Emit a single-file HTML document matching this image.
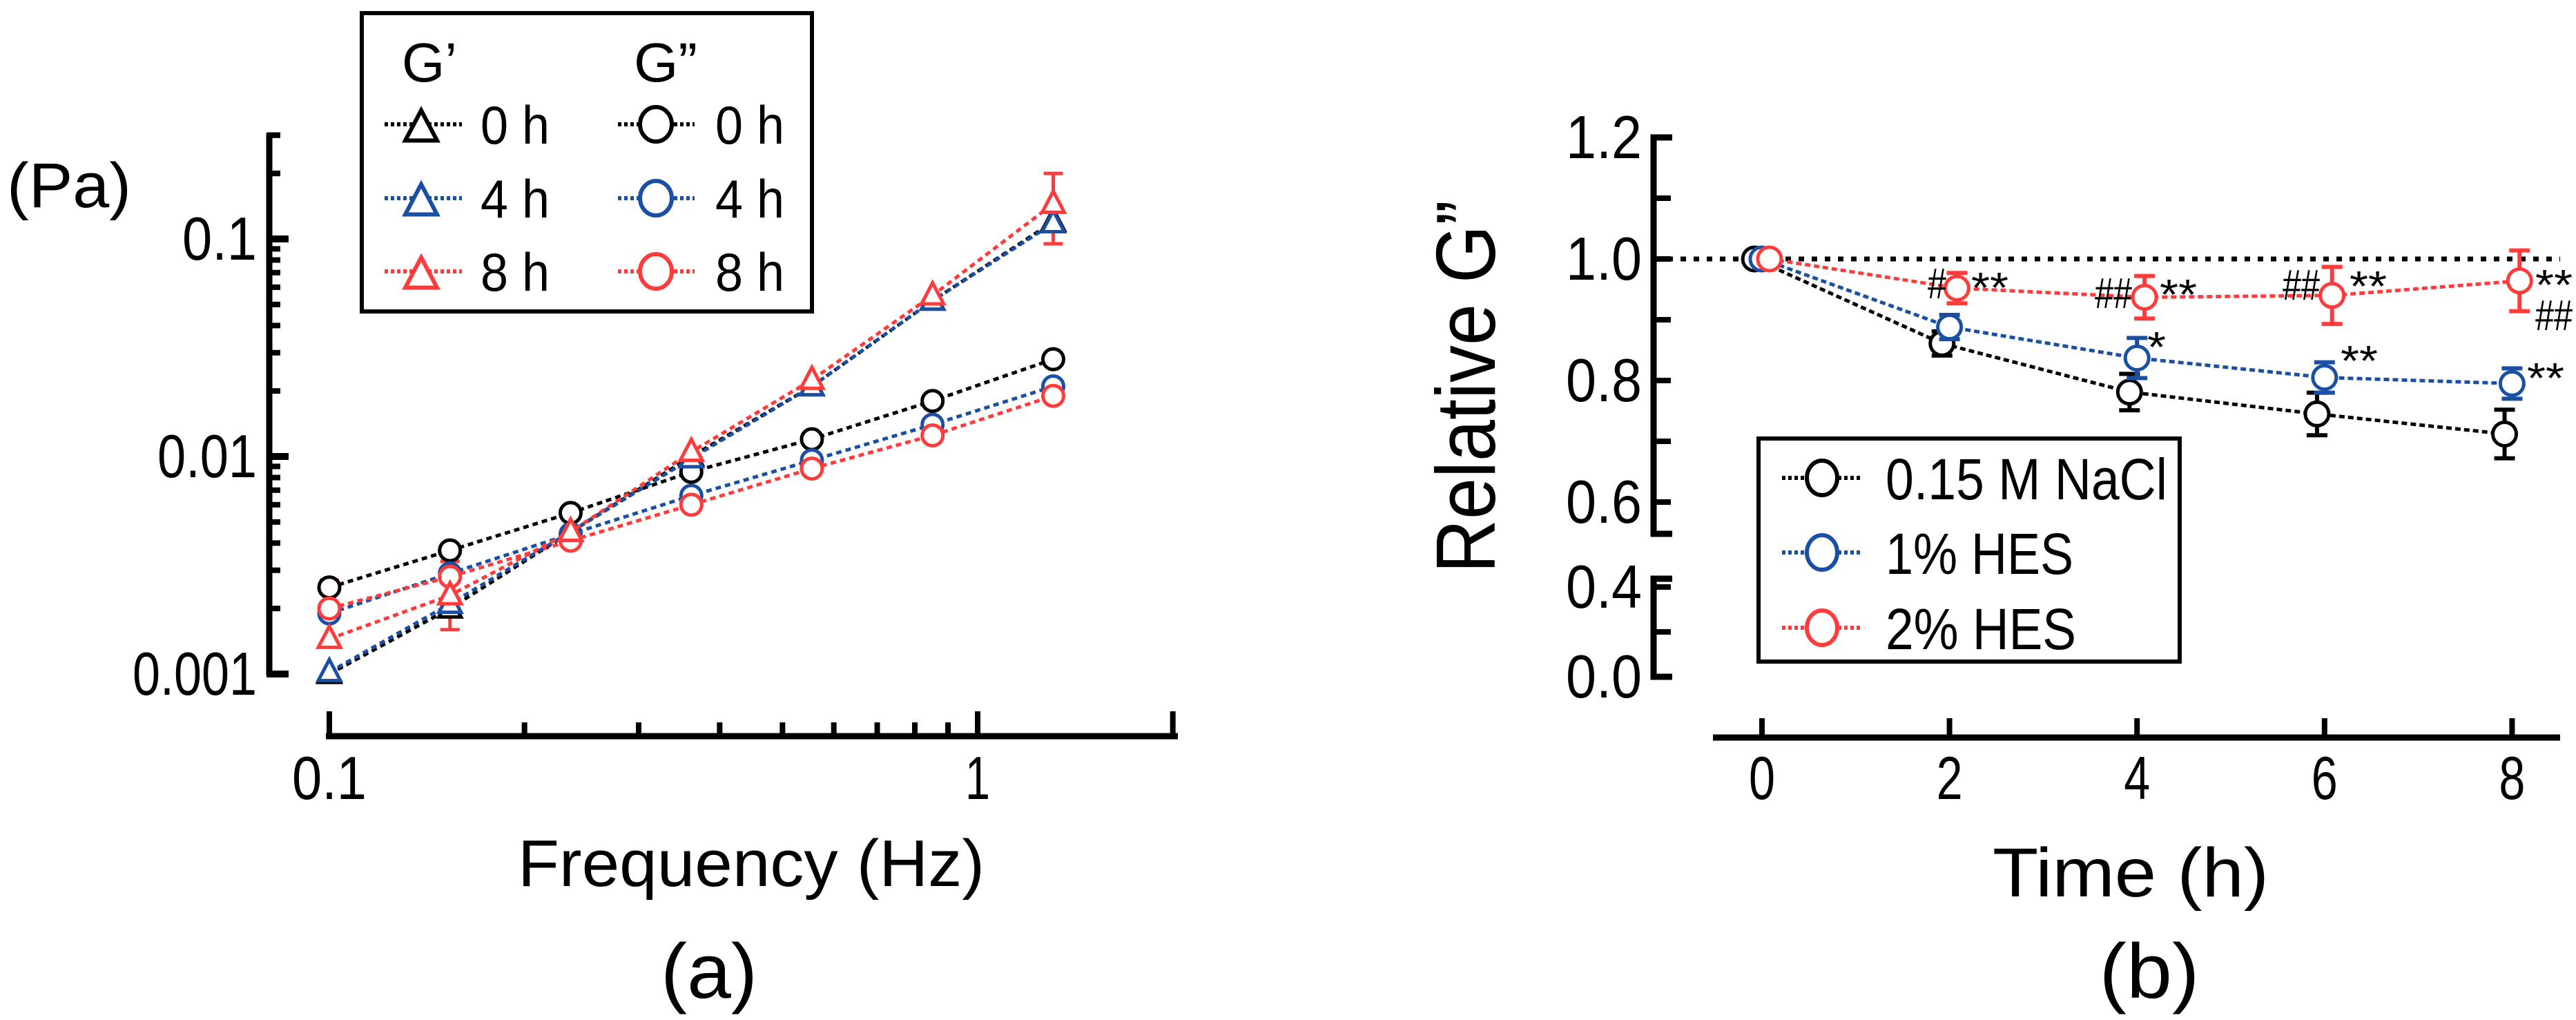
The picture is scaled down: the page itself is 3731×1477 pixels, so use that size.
<!DOCTYPE html>
<html><head><meta charset="utf-8">
<style>
html,body{margin:0;padding:0;background:#fff;}
svg{display:block;}
text{font-family:"Liberation Sans",sans-serif;fill:#000;}
</style></head>
<body>
<svg id="fig" width="3731" height="1477" viewBox="0 0 3731 1477" xmlns="http://www.w3.org/2000/svg">
<g id="pa"></g>
<g id="pb"></g>
</svg>
<script>
// ---------- Panel (a) data ----------
const freqs = [0.1, 0.1535, 0.2356, 0.3617, 0.555, 0.852, 1.308];
const gp0 = [0.00100, 0.0020, 0.0045, 0.0100, 0.021, 0.052, 0.120];
const gp4 = [0.00102, 0.0021, 0.0045, 0.0098, 0.021, 0.052, 0.118];
const gp8 = [0.00145, 0.0023, 0.0045, 0.0105, 0.0225, 0.055, 0.145];
const gpp0 = [0.0025, 0.0037, 0.0055, 0.0085, 0.012, 0.018, 0.028];
const gpp4 = [0.0019, 0.0029, 0.0044, 0.0066, 0.0096, 0.014, 0.021];
const gpp8 = [0.0020, 0.0028, 0.0041, 0.0060, 0.0088, 0.0125, 0.019];
const gp8ErrLo = [0.00145, 0.0016, 0.0045, 0.0105, 0.0225, 0.055, 0.095];
const gp8ErrHi = [0.00145, 0.0033, 0.0045, 0.0105, 0.0225, 0.055, 0.200];
const gpp8ErrLo = [0.0014, 0.0028, 0.0041, 0.0060, 0.0088, 0.0125, 0.019];
const gpp8ErrHi = [0.0027, 0.0028, 0.0041, 0.0060, 0.0088, 0.0125, 0.019];
const aYTicks = [0.001, 0.01, 0.1];
const aYTickLabels = ["0.001", "0.01", "0.1"];
const aXTicks = [0.1, 1];
const aXTickLabels = ["0.1", "1"];
// ---------- Panel (b) data ----------
const times = [0, 2, 4, 6, 8];
const naclVals = [1.0, 0.861, 0.781, 0.745, 0.712];
const naclErr = [0, 0.02, 0.03, 0.035, 0.04];
const hes1Vals = [1.0, 0.888, 0.837, 0.805, 0.795];
const hes1Err = [0, 0.02, 0.033, 0.025, 0.025];
const hes2Vals = [1.0, 0.952, 0.937, 0.940, 0.964];
const hes2Err = [0, 0.025, 0.035, 0.047, 0.05];
const bYTicksUpper = [0.6, 0.8, 1.0, 1.2];
const bYTickLabelsUpper = ["0.6", "0.8", "1.0", "1.2"];
const bYTicksLower = [0.0, 0.4];
const bYTickLabelsLower = ["0.0", "0.4"];
const bXTicks = [0, 2, 4, 6, 8];
const bXTickLabels = ["0", "2", "4", "6", "8"];

const NS = "http://www.w3.org/2000/svg";
function mk(parent, tag, attrs) {
  const e = document.createElementNS(NS, tag);
  for (const k in attrs) e.setAttribute(k, attrs[k]);
  parent.appendChild(e);
  return e;
}
const BLACK = "#000", BLUE = "#1a4fa3", RED = "#ff3b3b";

// ===== Panel A =====
const pa = document.getElementById("pa");
const ax = f => 477 + (Math.log10(f) + 1) * 939;
const ay = v => 346 - (Math.log10(v) + 1) * 315;

let e = mk(pa, "line", {x1: 390, y1: 194, x2: 390, y2: 978, stroke: BLACK, "stroke-width": 9});


for (let d = -3; d <= -1; d++) {
  for (let m = 1; m <= 9; m++) {
    const v = m * Math.pow(10, d);
    const y = ay(v);
    if (y < 190) continue;
    const t = mk(pa, "line", {x1: 386, y1: y, x2: m === 1 ? 418 : 406, y2: y, stroke: BLACK, "stroke-width": m === 1 ? 10 : 8});
    
    
  }
}
for (const v of [0.2, 0.3]) {
  const t = mk(pa, "line", {x1: 386, y1: ay(v), x2: 406, y2: ay(v), stroke: BLACK, "stroke-width": 8});
  
  
}
aYTicks.forEach((v, i) => {
  const t = mk(pa, "text", {x: 372, y: ay(v) + 30, "font-size": 88, "text-anchor": "end", textLength: aYTickLabels[i].length * 36, lengthAdjust: "spacingAndGlyphs"});
  t.textContent = aYTickLabels[i];
  
  
});
e = mk(pa, "text", {x: 10, y: 300, "font-size": 92, textLength: 180, lengthAdjust: "spacingAndGlyphs"});
e.textContent = "(Pa)";



e = mk(pa, "line", {x1: 472, y1: 1066, x2: 1706, y2: 1066, stroke: BLACK, "stroke-width": 9});


for (const f of [0.1, 0.2, 0.3, 0.4, 0.5, 0.6, 0.7, 0.8, 0.9, 1, 2]) {
  const major = (f === 0.1 || f === 1 || f === 2);
  const t = mk(pa, "line", {x1: ax(f), y1: 1070, x2: ax(f), y2: major ? 1030 : 1046, stroke: BLACK, "stroke-width": 8});
  
  
}
aXTicks.forEach((f, i) => {
  const t = mk(pa, "text", {x: ax(f), y: 1157, "font-size": 88, "text-anchor": "middle", textLength: aXTickLabels[i].length * 36, lengthAdjust: "spacingAndGlyphs"});
  t.textContent = aXTickLabels[i];
  
  
});
e = mk(pa, "text", {x: 1088, y: 1283, "font-size": 96, "text-anchor": "middle", textLength: 676, lengthAdjust: "spacingAndGlyphs"});
e.textContent = "Frequency (Hz)";


e = mk(pa, "text", {x: 1027, y: 1445, "font-size": 112, "text-anchor": "middle", textLength: 140, lengthAdjust: "spacingAndGlyphs"});
e.textContent = "(a)";



function tri(parent, x, y, s, color, w) {
  const h = s * 0.95;
  return mk(parent, "path", {d: `M${x} ${y - h * 0.6} L${x + s / 2} ${y + h * 0.4} L${x - s / 2} ${y + h * 0.4} Z`, fill: "#fff", stroke: color, "stroke-width": w});
}
function errA(lo, hi, color, name) {
  freqs.forEach((f, i) => {
    if (Math.abs(hi[i] - lo[i]) < 1e-9) return;
    const x = ax(f), y1 = ay(lo[i]), y2 = ay(hi[i]);
    const g = mk(pa, "path", {d: `M${x} ${y1} L${x} ${y2} M${x - 14} ${y1} L${x + 14} ${y1} M${x - 14} ${y2} L${x + 14} ${y2}`, stroke: color, "stroke-width": 5, fill: "none"});
    
    
  });
}
function seriesA(vals, color, shape, name) {
  const pts = freqs.map((f, i) => `${ax(f)},${ay(vals[i])}`).join(" ");
  const l = mk(pa, "polyline", {points: pts, fill: "none", stroke: color, "stroke-width": 5, "stroke-dasharray": "8 6"});
  
  
  freqs.forEach((f, i) => {
    let m;
    if (shape === "tri") m = tri(pa, ax(f), ay(vals[i]), 32, color, 5);
    else m = mk(pa, "circle", {cx: ax(f), cy: ay(vals[i]), r: 15, fill: "#fff", stroke: color, "stroke-width": 5});
    
    
  });
}
errA(gp8ErrLo, gp8ErrHi, RED, "gprime-8h-error-bar");
errA(gpp8ErrLo, gpp8ErrHi, RED, "gdoubleprime-8h-error-bar");
seriesA(gpp0, BLACK, "circ", "gdoubleprime-0h");
seriesA(gpp4, BLUE, "circ", "gdoubleprime-4h");
seriesA(gpp8, RED, "circ", "gdoubleprime-8h");
seriesA(gp0, BLACK, "tri", "gprime-0h");
seriesA(gp4, BLUE, "tri", "gprime-4h");
seriesA(gp8, RED, "tri", "gprime-8h");

const lgA = mk(pa, "g", {});


e = mk(lgA, "rect", {x: 524, y: 19, width: 652, height: 432, fill: "#fff", stroke: BLACK, "stroke-width": 6});


e = mk(lgA, "text", {x: 582, y: 118, "font-size": 80, textLength: 80, lengthAdjust: "spacingAndGlyphs"});
e.textContent = "G’";


e = mk(lgA, "text", {x: 918, y: 118, "font-size": 80, textLength: 92, lengthAdjust: "spacingAndGlyphs"});
e.textContent = "G”";


const lgColors = [BLACK, BLUE, RED];
const lgLabels = ["0 h", "4 h", "8 h"];
const lgRows = [180, 287, 393];
lgRows.forEach((ry, i) => {
  [[557, 669, 610, "tri", 696], [895, 1006, 950, "circ", 1036]].forEach(([x1, x2, mx, shape, tx]) => {
    const ent = mk(lgA, "g", {});
    
    
    mk(ent, "line", {x1: x1, y1: ry, x2: x2, y2: ry, stroke: lgColors[i], "stroke-width": 6, "stroke-dasharray": "5 4"});
    if (shape === "tri") tri(ent, mx, ry + 6, 46, lgColors[i], 6);
    else mk(ent, "ellipse", {cx: mx, cy: ry, rx: 23, ry: 25, fill: "#fff", stroke: lgColors[i], "stroke-width": 6});
    const t = mk(ent, "text", {x: tx, y: ry + 28, "font-size": 78, textLength: 100, lengthAdjust: "spacingAndGlyphs"});
    t.textContent = lgLabels[i];
  });
});

// ===== Panel B =====
const pb = document.getElementById("pb");
const bx = t => 2552 + t * 135.8;
const by = v => 375 - (v - 1.0) * 880;
const byLow = v => 980 - v * 325;

e = mk(pb, "path", {d: `M2422 199 L2395 199 L2395 773 L2422 773`, fill: "none", stroke: BLACK, "stroke-width": 9});


e = mk(pb, "path", {d: `M2422 838 L2395 838 L2395 980 L2422 980`, fill: "none", stroke: BLACK, "stroke-width": 9});


for (const v of [0.6, 0.7, 0.8, 0.9, 1.0, 1.1]) {
  const t = mk(pb, "line", {x1: 2395, y1: by(v), x2: 2420, y2: by(v), stroke: BLACK, "stroke-width": 8});
  
  
}
for (const v of [0.2, 0.4]) {
  const t = mk(pb, "line", {x1: 2395, y1: byLow(v), x2: 2420, y2: byLow(v), stroke: BLACK, "stroke-width": 8});
  
  
}
bYTicksUpper.forEach((v, i) => {
  const t = mk(pb, "text", {x: 2378, y: by(v) + 30, "font-size": 88, "text-anchor": "end", textLength: 110, lengthAdjust: "spacingAndGlyphs"});
  t.textContent = bYTickLabelsUpper[i];
  
  
});
bYTicksLower.forEach((v, i) => {
  const t = mk(pb, "text", {x: 2378, y: byLow(v) + 30, "font-size": 88, "text-anchor": "end", textLength: 110, lengthAdjust: "spacingAndGlyphs"});
  t.textContent = bYTickLabelsLower[i];
  
  
});
e = mk(pb, "text", {x: 0, y: 0, "font-size": 122, "text-anchor": "middle", transform: "translate(2165 560) rotate(-90)", textLength: 540, lengthAdjust: "spacingAndGlyphs"});
e.textContent = "Relative G”";



e = mk(pb, "line", {x1: 2481, y1: 1068, x2: 3708, y2: 1068, stroke: BLACK, "stroke-width": 9});


bXTicks.forEach((t0, i) => {
  const t = mk(pb, "line", {x1: bx(t0), y1: 1068, x2: bx(t0), y2: 1040, stroke: BLACK, "stroke-width": 8});
  
  
  const l = mk(pb, "text", {x: bx(t0), y: 1157, "font-size": 88, "text-anchor": "middle", textLength: 38, lengthAdjust: "spacingAndGlyphs"});
  l.textContent = bXTickLabels[i];
  
  
});
e = mk(pb, "text", {x: 3086, y: 1298, "font-size": 100, "text-anchor": "middle", textLength: 400, lengthAdjust: "spacingAndGlyphs"});
e.textContent = "Time (h)";


e = mk(pb, "text", {x: 3113, y: 1445, "font-size": 112, "text-anchor": "middle", textLength: 145, lengthAdjust: "spacingAndGlyphs"});
e.textContent = "(b)";



e = mk(pb, "line", {x1: 2415, y1: by(1.0), x2: 3708, y2: by(1.0), stroke: BLACK, "stroke-width": 7, "stroke-dasharray": "8 11"});



function seriesB(vals, errs, off, color, name) {
  const pts = times.map((t, i) => `${bx(t + off)},${by(vals[i])}`).join(" ");
  const l = mk(pb, "polyline", {points: pts, fill: "none", stroke: color, "stroke-width": 5, "stroke-dasharray": "8 5"});
  
  
  times.forEach((t, i) => {
    const x = bx(t + off);
    if (errs[i] > 0) {
      const y1 = by(vals[i] - errs[i]), y2 = by(vals[i] + errs[i]);
      const g = mk(pb, "path", {d: `M${x} ${y1} L${x} ${y2} M${x - 15} ${y1} L${x + 15} ${y1} M${x - 15} ${y2} L${x + 15} ${y2}`, stroke: color, "stroke-width": 6, fill: "none"});
      
      
    }
    const c = mk(pb, "circle", {cx: x, cy: by(vals[i]), r: 17, fill: "#fff", stroke: color, "stroke-width": 5});
    
    
  });
}
seriesB(naclVals, naclErr, -0.08, BLACK, "nacl");
seriesB(hes1Vals, hes1Err, 0, BLUE, "hes-1pct");
seriesB(hes2Vals, hes2Err, 0.08, RED, "hes-2pct");

const annos = [
  ["#", 2792, 432], ["**", 2855, 438], ["##", 3034, 446], ["**", 3128, 448],
  ["##", 3306, 434], ["**", 3403, 436], ["**", 3672, 434], ["##", 3672, 478],
  ["*", 3110, 524], ["**", 3390, 544], ["**", 3660, 569]
];
annos.forEach(a => {
  const t = mk(pb, "text", {x: a[1], y: a[2], "font-size": 62, "font-family": "Liberation Serif, serif", textLength: a[0].length * 27, lengthAdjust: "spacingAndGlyphs"});
  t.textContent = a[0];
  
  
});

const lgB = mk(pb, "g", {});


e = mk(lgB, "rect", {x: 2547, y: 635, width: 610, height: 323, fill: "#fff", stroke: BLACK, "stroke-width": 6});


const lgBLabels = ["0.15 M NaCl", "1% HES", "2% HES"];
const lgBWidths = [408, 272, 276];
const lgBRows = [692, 800, 909];
lgBRows.forEach((ry, i) => {
  const ent = mk(lgB, "g", {});
  
  
  mk(ent, "line", {x1: 2581, y1: ry, x2: 2695, y2: ry, stroke: lgColors[i], "stroke-width": 6, "stroke-dasharray": "5 4"});
  mk(ent, "ellipse", {cx: 2639, cy: ry, rx: 22, ry: 25, fill: "#fff", stroke: lgColors[i], "stroke-width": 6});
  const t = mk(ent, "text", {x: 2731, y: ry + 31, "font-size": 84, textLength: lgBWidths[i], lengthAdjust: "spacingAndGlyphs"});
  t.textContent = lgBLabels[i];
});
</script>
</body></html>
